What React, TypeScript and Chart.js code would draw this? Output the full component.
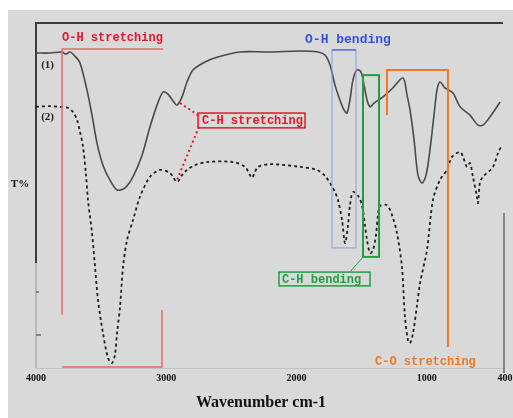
import React, { useEffect, useRef } from "react";
import { Chart, registerables } from "chart.js";

Chart.register(...registerables);

// Spectrum (1): solid curve
const wavenumbers1 = [4000, 3893, 3800, 3770, 3739, 3701, 3662, 3609, 3570, 3532, 3486, 3433, 3378, 3317, 3256, 3186, 3125, 3071, 3025, 2987, 2948, 2918, 2879, 2841, 2795, 2703, 2611, 2434, 2204, 1974, 1835, 1782, 1743, 1705, 1667, 1636, 1613, 1590, 1567, 1536, 1505, 1482, 1459, 1436, 1406, 1336, 1260, 1183, 1152, 1129, 1098, 1068, 1037, 1006, 976, 945, 922, 899, 861, 799, 745, 669, 607, 569, 515, 438];
const transmittance1 = [91.3, 91.3, 91.6, 91.0, 91.6, 90.4, 88.4, 80.6, 73.3, 65.2, 58.8, 54.5, 51.6, 52.2, 55.4, 61.7, 69.9, 76.2, 80.0, 79.4, 77.4, 76.2, 78.6, 82.9, 86.4, 88.7, 90.1, 91.6, 91.6, 91.9, 91.6, 90.7, 87.8, 82.0, 77.7, 74.8, 73.9, 77.7, 83.5, 86.4, 85.8, 82.0, 77.7, 75.7, 76.8, 78.6, 81.2, 84.1, 79.1, 74.8, 66.1, 55.9, 53.6, 55.9, 63.2, 73.3, 80.6, 82.9, 81.2, 79.7, 75.7, 73.3, 70.4, 70.4, 72.8, 77.1];

// Spectrum (2): dashed curve
const wavenumbers2 = [4000, 3893, 3816, 3754, 3716, 3685, 3662, 3639, 3616, 3601, 3570, 3547, 3524, 3486, 3447, 3417, 3394, 3378, 3355, 3332, 3301, 3255, 3202, 3125, 3048, 2971, 2918, 2879, 2841, 2780, 2687, 2488, 2396, 2357, 2342, 2319, 2296, 2204, 1974, 1843, 1782, 1743, 1705, 1682, 1651, 1628, 1605, 1590, 1567, 1528, 1498, 1475, 1459, 1436, 1413, 1390, 1375, 1359, 1306, 1267, 1229, 1191, 1168, 1145, 1129, 1106, 1075, 1052, 999, 953, 899, 845, 807, 745, 722, 692, 669, 646, 615, 607, 592, 569, 492, 454, 423];
const transmittance2 = [75.7, 75.9, 75.7, 75.4, 74.2, 71.9, 68.4, 64.1, 55.9, 48.7, 39.1, 29.3, 19.7, 10.1, 2.9, 1.4, 3.8, 10.1, 17.7, 29.3, 37.1, 42.9, 49.6, 55.4, 57.4, 56.5, 53.9, 55.9, 57.4, 58.8, 59.7, 59.7, 58.3, 55.9, 55.1, 56.8, 58.3, 59.1, 58.3, 57.4, 55.7, 53.6, 51.0, 48.7, 42.9, 36.2, 41.4, 47.2, 51.0, 49.9, 47.2, 41.4, 37.1, 33.3, 34.2, 38.6, 44.3, 47.0, 47.2, 44.3, 39.1, 29.3, 14.8, 8.1, 7.2, 10.1, 18.3, 24.6, 34.2, 48.7, 54.5, 57.4, 61.2, 62.6, 61.2, 58.3, 59.4, 55.4, 49.6, 47.8, 53.9, 55.4, 58.3, 62.3, 64.6];

const xTickValues = [4000, 3000, 2000, 1000, 400];
const xTitle = "Wavenumber cm-1";
const yTitle = "T%";
const seriesLabels = ["(1)", "(2)"];
const bandLabels = ["O-H stretching", "C-H stretching", "O-H bending", "C-H bending", "C-O stretching"];

const toPoints = (xs: number[], ys: number[]) => xs.map((x, i) => ({ x, y: ys[i] }));

const MONO = "'Liberation Mono', 'DejaVu Sans Mono', monospace";
const SERIF = "'Liberation Serif', serif";

const decor = {
  id: "decor",
  beforeDraw(chart: any) {
    const { ctx, width, height } = chart;
    ctx.save();
    ctx.fillStyle = "#ffffff";
    ctx.fillRect(0, 0, width, height);
    ctx.fillStyle = "#d9d9d9";
    ctx.fillRect(8, 10, width - 8, height - 10);
    ctx.restore();
  },
  beforeDatasetsDraw(chart: any) {
    const { ctx, chartArea: a } = chart;
    ctx.save();
    // bottom faint axis
    ctx.strokeStyle = "#c2c2c2";
    ctx.lineWidth = 1;
    ctx.beginPath();
    ctx.moveTo(a.left, a.bottom + 0.5);
    ctx.lineTo(a.right, a.bottom + 0.5);
    ctx.stroke();
    // left axis (lighter lower part)
    ctx.strokeStyle = "#9a9a9a";
    ctx.beginPath();
    ctx.moveTo(a.left, a.top + 230);
    ctx.lineTo(a.left, a.bottom);
    ctx.stroke();
    ctx.strokeStyle = "#3c3c3c";
    ctx.lineWidth = 2;
    ctx.beginPath();
    ctx.moveTo(a.left, a.top + 240);
    ctx.lineTo(a.left, a.top);
    ctx.lineTo(a.right - 2, a.top);
    ctx.stroke();
    // small left ticks
    ctx.lineWidth = 1.5;
    ctx.strokeStyle = "#666";
    ctx.beginPath();
    ctx.moveTo(a.left, a.top + 269);
    ctx.lineTo(a.left + 3, a.top + 269);
    ctx.moveTo(a.left, a.top + 312);
    ctx.lineTo(a.left + 5, a.top + 312);
    ctx.stroke();
    // right frame lower part
    ctx.strokeStyle = "#6a6a6a";
    ctx.lineWidth = 1.5;
    ctx.beginPath();
    ctx.moveTo(a.right - 1, a.top + 190);
    ctx.lineTo(a.right - 1, a.bottom + 5);
    ctx.stroke();
    ctx.restore();
  },
  afterDatasetsDraw(chart: any) {
    const { ctx, chartArea: a } = chart;
    const xs = chart.scales.x;
    const ys = chart.scales.y;
    const X = (v: number) => xs.getPixelForValue(v);
    const Y = (v: number) => ys.getPixelForValue(v);
    ctx.save();
    ctx.textBaseline = "middle";
    ctx.textAlign = "left";

    // ---- O-H stretching (red bracket)
    ctx.strokeStyle = "#e86a6a";
    ctx.lineWidth = 1.5;
    ctx.beginPath();
    ctx.moveTo(X(3025), Y(92.5));
    ctx.lineTo(X(3800), Y(92.5));
    ctx.lineTo(X(3800), Y(15.4));
    ctx.moveTo(X(3800), Y(0.3));
    ctx.lineTo(X(3033), Y(0.3));
    ctx.lineTo(X(3033), Y(16.8));
    ctx.stroke();
    ctx.fillStyle = "#e0182c";
    ctx.font = `bold 12px ${MONO}`;
    ctx.fillText(bandLabels[0], X(3800), Y(95.7));

    // ---- C-H stretching (red box + dotted leaders)
    ctx.strokeStyle = "#e0182c";
    ctx.lineWidth = 1.5;
    const bx1 = X(2756), bx2 = X(1935), by1 = Y(73.9), by2 = Y(69.6);
    ctx.strokeRect(bx1, by1, bx2 - bx1, by2 - by1);
    ctx.fillText(bandLabels[1], bx1 + 4, (by1 + by2) / 2 + 0.5);
    ctx.setLineDash([2, 3]);
    ctx.lineWidth = 2;
    ctx.beginPath();
    ctx.moveTo(X(2895), Y(76.8));
    ctx.lineTo(bx1, Y(73.3));
    ctx.moveTo(bx1 + 1, Y(69.9));
    ctx.lineTo(X(2918), Y(54.5));
    ctx.stroke();
    ctx.setLineDash([]);

    // ---- O-H bending (blue box)
    ctx.strokeStyle = "#8d9be8";
    ctx.lineWidth = 1;
    ctx.strokeRect(X(1728), Y(92.2), X(1544) - X(1728), Y(34.8) - Y(92.2));
    ctx.strokeStyle = "#5a6fe0";
    ctx.lineWidth = 1.5;
    ctx.beginPath();
    ctx.moveTo(X(1728), Y(92.2));
    ctx.lineTo(X(1544), Y(92.2));
    ctx.stroke();
    ctx.fillStyle = "#3550e0";
    ctx.font = `bold 13px ${MONO}`;
    ctx.fillText(bandLabels[2], X(1935), Y(95.1));

    // ---- C-H bending (green box + label)
    ctx.strokeStyle = "#1fa040";
    ctx.lineWidth = 2;
    ctx.strokeRect(X(1490), Y(84.9), X(1367) - X(1490), Y(32.2) - Y(84.9));
    ctx.lineWidth = 1;
    ctx.beginPath();
    ctx.moveTo(X(1490), Y(32.2));
    ctx.lineTo(X(1590), Y(27.8));
    ctx.stroke();
    const gx1 = X(2135), gx2 = X(1436), gy1 = Y(27.8), gy2 = Y(23.8);
    ctx.lineWidth = 1.5;
    ctx.strokeRect(gx1, gy1, gx2 - gx1, gy2 - gy1);
    ctx.fillStyle = "#1fa040";
    ctx.font = `bold 12px ${MONO}`;
    ctx.fillText(bandLabels[3], gx1 + 3, (gy1 + gy2) / 2 + 0.5);

    // ---- C-O stretching (orange bracket)
    ctx.strokeStyle = "#f07a22";
    ctx.lineWidth = 2;
    ctx.beginPath();
    ctx.moveTo(X(1306), Y(73.3));
    ctx.lineTo(X(1306), Y(86.4));
    ctx.lineTo(X(838), Y(86.4));
    ctx.lineTo(X(838), Y(6.1));
    ctx.stroke();
    ctx.fillStyle = "#f07a22";
    ctx.font = `bold 12px ${MONO}`;
    ctx.fillText(bandLabels[4], X(1398), Y(1.7));

    // ---- series labels
    ctx.fillStyle = "#222";
    ctx.font = `bold 11px ${SERIF}`;
    ctx.fillText(seriesLabels[0], X(3960), Y(87.8));
    ctx.fillText(seriesLabels[1], X(3960), Y(72.8));

    // ---- y title
    ctx.fillStyle = "#111";
    ctx.font = `bold 11px ${SERIF}`;
    ctx.textAlign = "center";
    ctx.fillText(yTitle, a.left - 16, Y(53.3));

    // ---- x title
    ctx.font = `bold 16px ${SERIF}`;
    ctx.fillText(xTitle, X(2273), a.bottom + 35);
    ctx.restore();
  },
};

export default function App() {
  const ref = useRef<HTMLCanvasElement | null>(null);
  useEffect(() => {
    if (!ref.current) return;
    const chart = new Chart(ref.current, {
      type: "line",
      data: {
        datasets: [
          {
            data: toPoints(wavenumbers1, transmittance1),
            borderColor: "#4a4a4a",
            borderWidth: 1.6,
            pointRadius: 0,
            tension: 0.3,
            fill: false,
          },
          {
            data: toPoints(wavenumbers2, transmittance2),
            borderColor: "#1e1e1e",
            borderWidth: 1.8,
            borderDash: [3, 3],
            pointRadius: 0,
            tension: 0.3,
            fill: false,
          },
        ],
      },
      options: {
        animation: false,
        responsive: false,
        devicePixelRatio: 1,
        layout: { padding: { left: 36, right: 8, top: 23, bottom: 0 } },
        plugins: { legend: { display: false }, tooltip: { enabled: false }, title: { display: false } },
        scales: {
          x: {
            type: "linear",
            reverse: true,
            min: 400,
            max: 4000,
            grid: { display: false, drawTicks: false },
            border: { display: false },
            afterBuildTicks: (s: any) => {
              s.ticks = xTickValues.map((v) => ({ value: v }));
            },
            afterFit: (s: any) => {
              s.height = 50;
              s.paddingLeft = 0;
              s.paddingRight = 0;
            },
            ticks: {
              autoSkip: false,
              maxRotation: 0,
              padding: 4,
              color: "#111",
              font: { family: SERIF, size: 10, weight: "bold" },
              callback: (v: any) => String(v),
            },
          },
          y: {
            type: "linear",
            min: 0,
            max: 100,
            display: false,
          },
        },
      },
      plugins: [decor],
    } as any);
    return () => chart.destroy();
  }, []);
  return (
    <div style={{ position: "absolute", left: 0, top: 0, width: 513, height: 418 }}>
      <canvas ref={ref} width={513} height={418} style={{ width: 513, height: 418, display: "block" }} />
    </div>
  );
}
